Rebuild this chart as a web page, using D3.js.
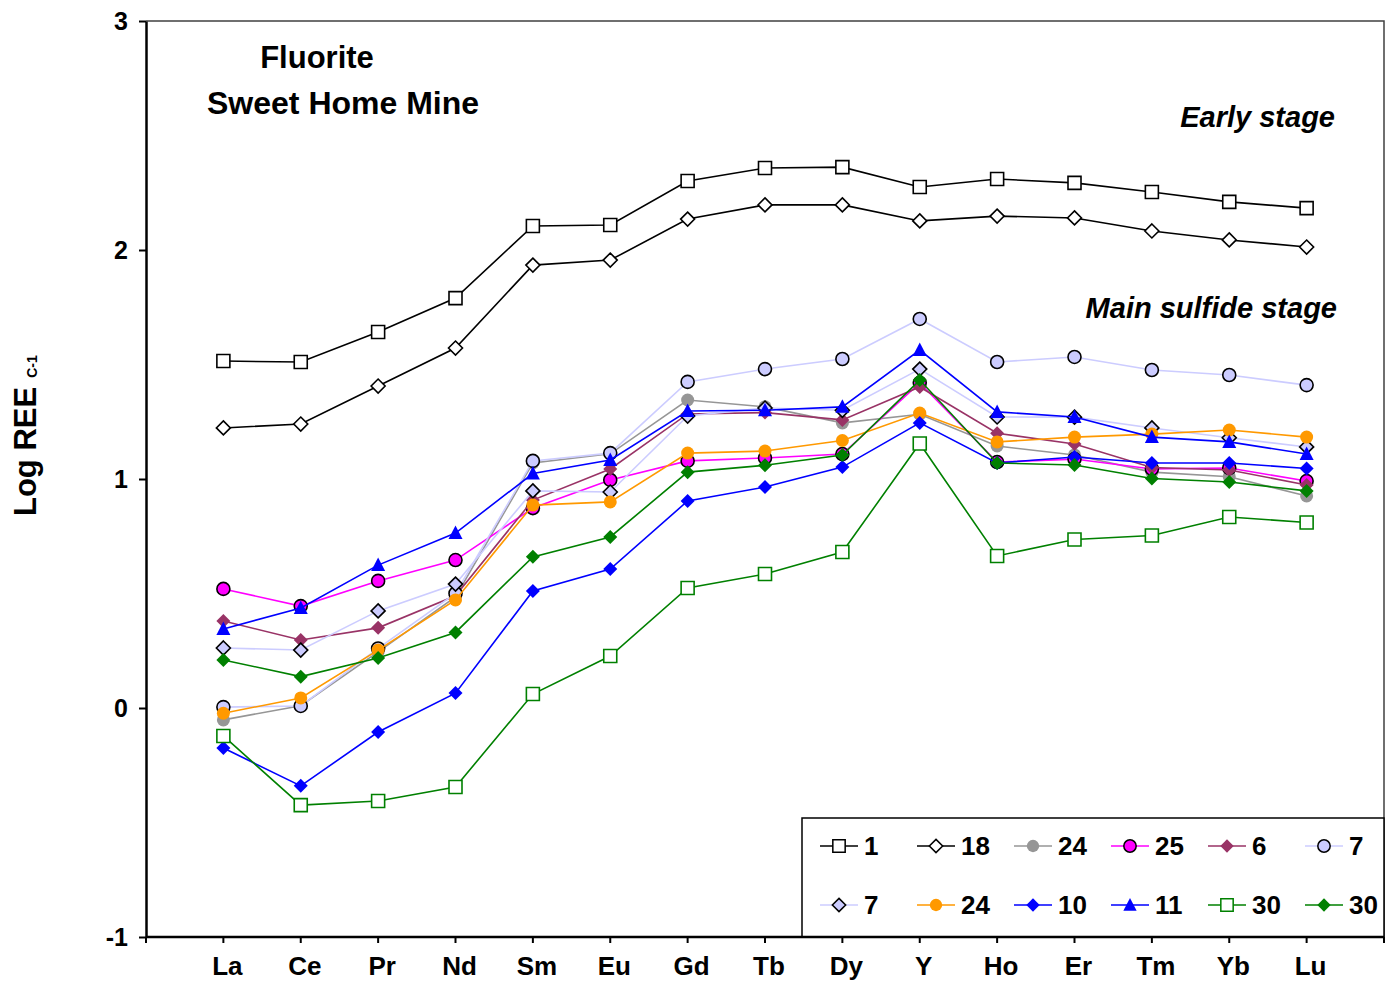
<!DOCTYPE html>
<html>
<head>
<meta charset="utf-8">
<script src="https://cdn.jsdelivr.net/npm/d3@7"></script>
<style>
    body { margin: 0; background: #ffffff; }
    text { font-family: Arial, "Liberation Sans", sans-serif; font-weight: bold; fill: #000000; }
</style>
</head>
<body>
<div id="chart"></div>
<script>
'use strict'

////////////////////////////////////
//////////// data //////////////////
////////////////////////////////////

const categories = ['La', 'Ce', 'Pr', 'Nd', 'Sm', 'Eu', 'Gd', 'Tb', 'Dy', 'Y', 'Ho', 'Er', 'Tm', 'Yb', 'Lu']
const yTicks = [-1, 0, 1, 2, 3]

const seriesNames = ['1', '18', '24', '25', '6', '7', '7', '24', '10', '11', '30', '30']

const s1   = [1.515, 1.511, 1.642, 1.790, 2.105, 2.109, 2.301, 2.358, 2.362, 2.275, 2.310, 2.293, 2.253, 2.210, 2.183]
const s18  = [1.223, 1.240, 1.406, 1.572, 1.934, 1.956, 2.135, 2.197, 2.197, 2.127, 2.148, 2.140, 2.083, 2.044, 2.013]
const s24a = [-0.052, 0.010, 0.245, 0.485, 1.070, 1.110, 1.345, 1.315, 1.245, 1.283, 1.144, 1.105, 1.030, 1.010, 0.926]
const s25  = [0.520, 0.445, 0.555, 0.646, 0.873, 0.996, 1.079, 1.092, 1.109, 1.420, 1.074, 1.087, 1.044, 1.048, 0.991]
const s6   = [0.380, 0.297, 0.350, 0.490, 0.908, 1.044, 1.284, 1.290, 1.258, 1.402, 1.200, 1.153, 1.050, 1.039, 0.974]
const s7a  = [0.004, 0.009, 0.260, 0.500, 1.079, 1.113, 1.424, 1.480, 1.524, 1.699, 1.511, 1.533, 1.476, 1.454, 1.410]
const s7b  = [0.262, 0.253, 0.424, 0.541, 0.948, 0.943, 1.275, 1.310, 1.300, 1.480, 1.271, 1.270, 1.223, 1.180, 1.140]
const s24b = [-0.023, 0.044, 0.253, 0.472, 0.886, 0.900, 1.113, 1.122, 1.168, 1.288, 1.162, 1.183, 1.196, 1.214, 1.183]
const s10  = [-0.175, -0.340, -0.105, 0.065, 0.511, 0.607, 0.904, 0.965, 1.052, 1.245, 1.070, 1.096, 1.070, 1.070, 1.046]
const s11  = [0.345, 0.437, 0.624, 0.764, 1.024, 1.083, 1.297, 1.300, 1.315, 1.563, 1.293, 1.271, 1.183, 1.162, 1.109]
const s30a = [-0.122, -0.424, -0.406, -0.345, 0.061, 0.227, 0.524, 0.585, 0.681, 1.155, 0.664, 0.736, 0.753, 0.834, 0.810]
const s30b = [0.210, 0.137, 0.218, 0.330, 0.660, 0.747, 1.030, 1.060, 1.105, 1.432, 1.070, 1.061, 1.002, 0.987, 0.948]

// line colour, marker shape, marker fill, marker stroke
const styles = [
    { line: '#000000', shape: 'square',   fill: '#ffffff', stroke: '#000000' },
    { line: '#000000', shape: 'diamond',  fill: '#ffffff', stroke: '#000000' },
    { line: '#969696', shape: 'circle',   fill: '#969696', stroke: 'none' },
    { line: '#ff00ff', shape: 'circle',   fill: '#ff00ff', stroke: '#000000' },
    { line: '#993366', shape: 'diamond',  fill: '#993366', stroke: 'none' },
    { line: '#ccccff', shape: 'circle',   fill: '#ccccff', stroke: '#000000' },
    { line: '#ccccff', shape: 'diamond',  fill: '#ccccff', stroke: '#000000' },
    { line: '#ff9900', shape: 'circle',   fill: '#ff9900', stroke: 'none' },
    { line: '#0000ff', shape: 'diamond',  fill: '#0000ff', stroke: 'none' },
    { line: '#0000ff', shape: 'triangle', fill: '#0000ff', stroke: 'none' },
    { line: '#008000', shape: 'square',   fill: '#ffffff', stroke: '#008000' },
    { line: '#008000', shape: 'diamond',  fill: '#008000', stroke: 'none' }
]

const seriesValues = [s1, s18, s24a, s25, s6, s7a, s7b, s24b, s10, s11, s30a, s30b]
const series = seriesNames.map((name, i) => ({ name: name, values: seriesValues[i], style: styles[i] }))

////////////////////////////////////
//////////// svg setup /////////////
////////////////////////////////////

const svgWidth = 1399
const svgHeight = 986
const plotLeft = 146, plotRight = 1384, plotTop = 21, plotBottom = 937

const svg = d3.select('#chart')
    .append('svg')
    .attr('width', svgWidth)
    .attr('height', svgHeight)

////////////////////////////////////
//////////// scales ////////////////
////////////////////////////////////

const x = d3.scalePoint()
    .domain(categories)
    .range([plotLeft, plotRight])
    .padding(1)

const y = d3.scaleLinear()
    .domain([-1, 3])
    .range([plotBottom, plotTop])

// marker paths, centred on 0,0
function markerPath(shape) {
    if (shape === 'square') return 'M-6.5,-6.5H6.5V6.5H-6.5Z'
    if (shape === 'diamond') return 'M0,-7L7,0L0,7L-7,0Z'
    if (shape === 'triangle') return 'M0,-7.5L7,6H-7Z'
    return d3.arc()({ innerRadius: 0, outerRadius: 6.5, startAngle: 0, endAngle: 2 * Math.PI })
}

////////////////////////////////////
//////////// frame & axes //////////
////////////////////////////////////

// thin top / right border
svg.append('path')
    .attr('d', `M${plotLeft},${plotTop}H${plotRight}V${plotBottom}`)
    .attr('fill', 'none')
    .attr('stroke', '#404040')
    .attr('stroke-width', 1.5)

const yAxis = d3.axisLeft(y)
    .tickValues(yTicks)
    .tickFormat(d => String(d))
    .tickSize(7)
    .tickSizeOuter(0)

svg.append('g')
    .attr('class', 'y-axis')
    .attr('transform', `translate(${plotLeft},0)`)
    .call(yAxis)
    .call(g => g.select('.domain').attr('stroke-width', 2.5))
    .call(g => g.selectAll('line').attr('stroke-width', 2))
    .call(g => g.selectAll('text')
        .attr('x', -18)
        .attr('font-size', '25px')
        .attr('font-family', 'Arial, "Liberation Sans", sans-serif')
        .attr('font-weight', 'bold'))

// y axis title
const yTitle = svg.append('text')
    .attr('transform', 'translate(36,516) rotate(-90)')
    .attr('font-size', '31px')
yTitle.append('tspan').text('Log REE')
yTitle.append('tspan')
    .text('C-1')
    .attr('font-size', '14px')
    .attr('dx', 9)
    .attr('dy', 1)

////////////////////////////////////
//////////// lines & markers ///////
////////////////////////////////////

const line = d3.line()
    .x((d, i) => x(categories[i]))
    .y(d => y(d))

series.forEach(s => {
    const g = svg.append('g')

    g.append('path')
        .datum(s.values)
        .attr('d', line)
        .attr('fill', 'none')
        .attr('stroke', s.style.line)
        .attr('stroke-width', 1.6)

    g.selectAll('path.marker')
        .data(s.values)
        .join('path')
        .attr('class', 'marker')
        .attr('d', markerPath(s.style.shape))
        .attr('transform', (d, i) => `translate(${x(categories[i])},${y(d)})`)
        .attr('fill', s.style.fill)
        .attr('stroke', s.style.stroke)
        .attr('stroke-width', 1.6)
})

////////////////////////////////////
//////////// legend ////////////////
////////////////////////////////////

const legend = svg.append('g').attr('class', 'legend')

legend.append('rect')
    .attr('x', 802)
    .attr('y', 818)
    .attr('width', plotRight - 802)
    .attr('height', plotBottom - 818)
    .attr('fill', '#ffffff')
    .attr('stroke', '#000000')
    .attr('stroke-width', 1.5)

series.forEach((s, i) => {
    const lx = 820 + (i % 6) * 97
    const ly = i < 6 ? 846 : 905
    const item = legend.append('g')

    item.append('line')
        .attr('x1', lx)
        .attr('x2', lx + 38)
        .attr('y1', ly)
        .attr('y2', ly)
        .attr('stroke', s.style.line)
        .attr('stroke-width', 1.6)

    item.append('path')
        .attr('d', markerPath(s.style.shape))
        .attr('transform', `translate(${lx + 19},${ly}) scale(0.95)`)
        .attr('fill', s.style.fill)
        .attr('stroke', s.style.stroke)
        .attr('stroke-width', 1.6)

    item.append('text')
        .attr('x', lx + 44)
        .attr('y', ly + 9)
        .attr('font-size', '26px')
        .text(s.name)
})

// bottom axis drawn over legend border
const tickPos = [plotLeft].concat(categories.map(c => x(c))).concat([plotRight])

svg.append('line')
    .attr('x1', plotLeft)
    .attr('x2', plotRight)
    .attr('y1', plotBottom)
    .attr('y2', plotBottom)
    .attr('stroke', '#000000')
    .attr('stroke-width', 2.5)

svg.selectAll('line.x-tick')
    .data(tickPos)
    .join('line')
    .attr('class', 'x-tick')
    .attr('x1', d => d)
    .attr('x2', d => d)
    .attr('y1', plotBottom)
    .attr('y2', plotBottom + 6)
    .attr('stroke', '#000000')
    .attr('stroke-width', 2)

svg.selectAll('text.x-label')
    .data(categories)
    .join('text')
    .attr('class', 'x-label')
    .attr('x', d => x(d) + 4)
    .attr('y', 975)
    .attr('text-anchor', 'middle')
    .attr('font-size', '26px')
    .text(d => d)

////////////////////////////////////
//////////// annotations ///////////
////////////////////////////////////

svg.append('text')
    .attr('x', 317)
    .attr('y', 68)
    .attr('text-anchor', 'middle')
    .attr('font-size', '31px')
    .text('Fluorite')

svg.append('text')
    .attr('x', 207)
    .attr('y', 114)
    .attr('font-size', '32px')
    .text('Sweet Home Mine')

svg.append('text')
    .attr('x', 1335)
    .attr('y', 127)
    .attr('text-anchor', 'end')
    .attr('font-size', '29px')
    .attr('font-style', 'italic')
    .text('Early stage')

svg.append('text')
    .attr('x', 1337)
    .attr('y', 318)
    .attr('text-anchor', 'end')
    .attr('font-size', '29px')
    .attr('font-style', 'italic')
    .text('Main sulfide stage')
</script>
</body>
</html>
